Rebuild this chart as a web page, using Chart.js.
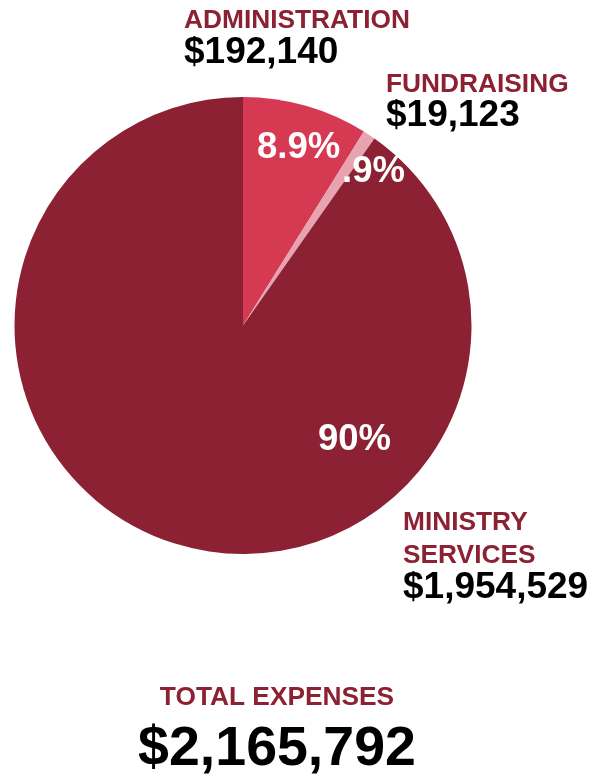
<!DOCTYPE html>
<html lang="en">
<head>
<meta charset="UTF-8">
<title>Total Expenses</title>
<script src="https://cdn.jsdelivr.net/npm/chart.js"></script>
<style>
  html, body { margin: 0; padding: 0; background: #fff; }
  #wrap { width: 607px; height: 777px; position: relative; }
</style>
</head>
<body>
<div id="wrap"><canvas id="expenses"></canvas></div>
<script>
// data
const categories = ['ADMINISTRATION', 'FUNDRAISING', 'MINISTRY SERVICES'];
const amounts = [192140, 19123, 1954529];
const percentLabels = ['8.9%', '.9%', '90%'];
const totalLabel = 'TOTAL EXPENSES';
const totalAmount = 2165792;

const sliceColors = ['#d63a52', '#e8a3b0', '#8b2133'];
const RED = '#8b2133';
const FONT = '"Liberation Sans", Arial, sans-serif';

function money(v) {
    return '$' + v.toLocaleString('en-US');
}

// where the texts go (canvas px)
const nameSpots = [
    { x: 184, y: 28, lines: ['ADMINISTRATION'], valueY: 63 },
    { x: 386, y: 92, lines: ['FUNDRAISING'], valueY: 126 },
    { x: 403, y: 530, lines: ['MINISTRY', 'SERVICES'], valueY: 598 }
];
const pctSpots = [
    { x: 257, y: 158 },
    { x: 342, y: 182 },
    { x: 318, y: 450 }
];

const labelPlugin = {
    id: 'expenseLabels',
    afterDraw(chart) {
        const ctx = chart.ctx;
        ctx.save();
        ctx.textBaseline = 'alphabetic';
        ctx.textAlign = 'left';

        // percent labels on the slices
        ctx.fillStyle = '#fff';
        ctx.font = 'bold 36.5px ' + FONT;
        percentLabels.forEach((p, i) => {
            ctx.fillText(p, pctSpots[i].x, pctSpots[i].y);
        });

        // category names + amounts
        nameSpots.forEach((s, i) => {
            ctx.fillStyle = RED;
            ctx.font = 'bold 26.3px ' + FONT;
            s.lines.forEach((ln, k) => ctx.fillText(ln, s.x, s.y + k * 33));
            ctx.fillStyle = '#000';
            ctx.font = 'bold 37px ' + FONT;
            ctx.fillText(money(amounts[i]), s.x, s.valueY);
        });

        // total
        ctx.textAlign = 'center';
        ctx.fillStyle = RED;
        ctx.font = 'bold 26.3px ' + FONT;
        ctx.fillText(totalLabel, 277, 705);
        ctx.fillStyle = '#000';
        ctx.font = 'bold 55.5px ' + FONT;
        ctx.fillText(money(totalAmount), 277, 765);
        ctx.restore();
    }
};

new Chart(document.getElementById('expenses'), {
    type: 'pie',
    data: {
        labels: categories,
        datasets: [{
            data: amounts,
            backgroundColor: sliceColors,
            borderWidth: 0
        }]
    },
    options: {
        responsive: true,
        maintainAspectRatio: false,
        animation: false,
        layout: { padding: { left: 14, right: 135, top: 97, bottom: 223 } },
        plugins: {
            legend: { display: false },
            tooltip: { enabled: false }
        }
    },
    plugins: [labelPlugin]
});
</script>
</body>
</html>
